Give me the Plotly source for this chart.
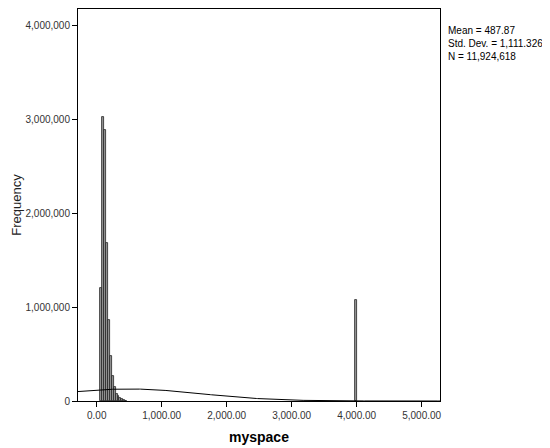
import numpy as np
import plotly.graph_objects as go

# histogram of myspace (SPSS-style)
bin_width = 30
bin_centers = [65, 95, 125, 155, 185, 215, 245, 275, 305, 335, 365, 395, 425, 455, 3985]
frequency = [1200000, 3030000, 2890000, 1680000, 860000, 480000, 270000, 150000,
             80000, 50000, 30000, 18000, 10000, 5000, 1080000]

mean = 487.87
std_dev = 1111.326
n_obs = 11924618

x_ticks = [0, 1000, 2000, 3000, 4000, 5000]
y_ticks = [0, 1000000, 2000000, 3000000, 4000000]
x_range = [-288, 5282]
y_range = [0, 4180000]

# normal curve from the reported mean / sd, scaled to counts per bin
xs = np.linspace(x_range[0], x_range[1], 400)
curve = n_obs * bin_width / (std_dev * np.sqrt(2 * np.pi)) * np.exp(-0.5 * ((xs - mean) / std_dev) ** 2)

fig = go.Figure()
fig.add_trace(go.Bar(
    x=bin_centers, y=frequency, width=bin_width,
    marker=dict(color='#999999', line=dict(color='#222222', width=0.8)),
    hoverinfo='x+y',
))
fig.add_trace(go.Scatter(
    x=xs, y=curve, mode='lines',
    line=dict(color='black', width=1),
    hoverinfo='skip',
))

# page body keeps its default 8px margin, so the figure is 8px smaller
fig.update_layout(
    width=542, height=440,
    margin=dict(l=70, r=110, t=1, b=47, autoexpand=False),
    paper_bgcolor='white', plot_bgcolor='white',
    showlegend=False, bargap=0,
    font=dict(family='Liberation Sans, Arial, sans-serif', size=10, color='#333'),
)
fig.update_xaxes(
    range=x_range, tickvals=x_ticks, tickformat=',.2f', automargin=False,
    showgrid=False, zeroline=False,
    showline=True, linecolor='black', linewidth=1, mirror=True,
    ticks='outside', ticklen=5, tickcolor='black',
)
fig.update_yaxes(
    range=y_range, tickvals=y_ticks, tickformat=',d', automargin=False,
    showgrid=False, zeroline=False,
    showline=True, linecolor='black', linewidth=1, mirror=True,
    ticks='outside', ticklen=5, tickcolor='black',
)

# axis titles placed like SPSS output
fig.add_annotation(
    xref='paper', yref='paper', x=0.5, y=-0.066, xanchor='center', yanchor='top',
    showarrow=False, text='<b>myspace</b>', font=dict(size=14, color='black'),
)
fig.add_annotation(
    xref='paper', yref='paper', x=-0.172, y=0.5, xanchor='center', yanchor='middle',
    showarrow=False, text='Frequency', textangle=-90, font=dict(size=13, color='#222'),
)
fig.add_annotation(
    xref='paper', yref='paper', x=1.016, y=0.964, xanchor='left', yanchor='top',
    align='left', showarrow=False,
    text=f'Mean = {mean:.2f}<br>Std. Dev. = 1,111.326<br>N = {n_obs:,}',
    font=dict(size=10, color='black'),
)

fig.write_html("out.html")
